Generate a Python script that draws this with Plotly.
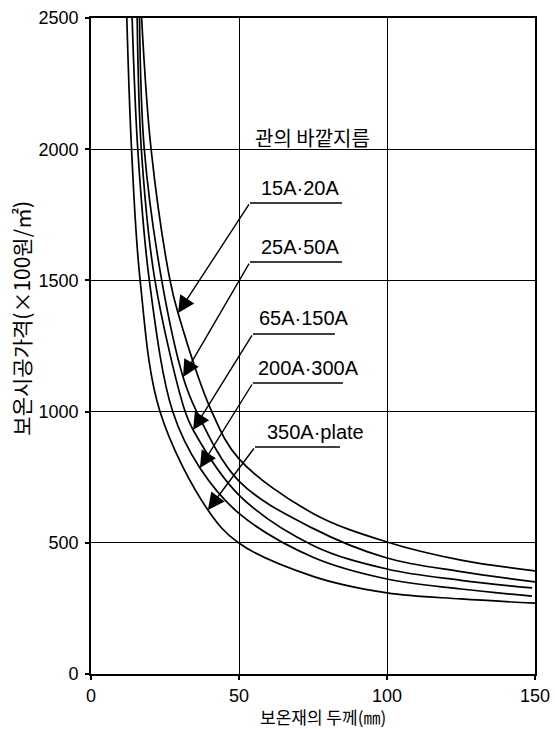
import plotly.graph_objects as go

# ---- data ----
series_names = ["15A·20A", "25A·50A", "65A·150A", "200A·300A", "350A·plate"]

x_15A = [17.1, 20.3, 26.7, 29.4, 40.8, 50, 75, 100, 125, 150]
y_15A = [2500, 2000, 1500, 1376, 1000, 820, 612, 503, 434, 393]

x_25A = [16.4, 18.0, 23.9, 31.1, 35.7, 50, 75, 100, 125, 150]
y_25A = [2500, 2000, 1500, 1132, 1000, 735, 555, 442, 390, 351]

x_65A = [15.6, 17.0, 21.6, 31.8, 34.5, 50, 75, 100, 125, 149]
y_65A = [2500, 2000, 1500, 1000, 930, 682, 490, 400, 357, 328]

x_200A = [13.9, 15.8, 19.7, 27.6, 36.8, 50, 75, 100, 125, 149]
y_200A = [2500, 2000, 1500, 1000, 785, 612, 445, 362, 324, 297]

x_350A = [12.1, 13.7, 16.6, 23.3, 39.5, 49.8, 75, 100, 125, 150]
y_350A = [2500, 2000, 1500, 1000, 625, 500, 372, 309, 286, 270]

# label annotations: text centre, underline (left x, right x, y), arrow tip
label_x = [70.6, 70.6, 72.0, 73.6, 75.7]
label_y = [1852, 1627, 1357, 1166, 922]
under_x0 = [53.7, 53.7, 54.7, 54.7, 55.4]
under_x1 = [84.8, 84.8, 82.4, 85.1, 84.1]
under_y = [1795, 1570, 1296, 1109, 865]
tip_x = [29.4, 31.1, 34.5, 36.8, 39.5]
tip_y = [1376, 1132, 930, 785, 625]

header_text = "관의 바깥지름"
header_x, header_y = 74.7, 2046

x_ticks = [0, 50, 100, 150]
y_ticks = [0, 500, 1000, 1500, 2000, 2500]

x_title = "보온재의 두께(㎜)"
y_title = "보온시공가격(×100원/㎡)"

KR = "Noto Sans CJK KR"
NUM = "Liberation Sans, Arial, sans-serif"

fig = go.Figure()
for xs, ys, nm in zip([x_15A, x_25A, x_65A, x_200A, x_350A],
                      [y_15A, y_25A, y_65A, y_200A, y_350A], series_names):
    fig.add_trace(go.Scatter(x=xs, y=ys, mode="lines", name=nm,
                             line=dict(color="black", width=1.7, shape="spline", smoothing=1.0),
                             showlegend=False, hoverinfo="skip"))

annotations = []
shapes = []
for i, nm in enumerate(series_names):
    annotations.append(dict(x=label_x[i], y=label_y[i], xref="x", yref="y", text=nm,
                            showarrow=False, font=dict(family=NUM, size=20, color="black"),
                            xanchor="center", yanchor="middle"))
    shapes.append(dict(type="line", xref="x", yref="y", x0=under_x0[i], x1=under_x1[i],
                       y0=under_y[i], y1=under_y[i], line=dict(color="black", width=1.5)))
    annotations.append(dict(x=tip_x[i], y=tip_y[i], xref="x", yref="y",
                            ax=under_x0[i], ay=under_y[i], axref="x", ayref="y",
                            text="", showarrow=True, arrowhead=2, arrowsize=2.4,
                            arrowwidth=1.4, arrowcolor="black"))

annotations.append(dict(x=header_x, y=header_y, xref="x", yref="y", text=header_text,
                        showarrow=False, font=dict(family=KR, size=20, color="black"),
                        xanchor="center", yanchor="middle"))
annotations.append(dict(x=0.523, y=-0.0655, xref="paper", yref="paper", text=x_title,
                        showarrow=False, font=dict(family=KR, size=17, color="black"),
                        xanchor="center", yanchor="middle"))
annotations.append(dict(x=-0.158, y=0.543, xref="paper", yref="paper", text=y_title,
                        showarrow=False, textangle=-90, font=dict(family=KR, size=21, color="black"),
                        xanchor="center", yanchor="middle"))

fig.update_layout(
    width=555, height=729,
    margin=dict(l=91, r=20, t=18, b=55),
    paper_bgcolor="white", plot_bgcolor="white",
    annotations=annotations, shapes=shapes,
    xaxis=dict(range=[0, 150], tickvals=x_ticks, ticks="outside", ticklen=4, tickwidth=1.5,
               tickcolor="black", showgrid=True, gridcolor="black", gridwidth=1.3,
               showline=True, linecolor="black", linewidth=1.8, mirror=True, zeroline=False,
               automargin=False,
               tickfont=dict(family=NUM, size=18, color="black"), ticklabelstandoff=0),
    yaxis=dict(range=[0, 2500], tickvals=y_ticks, ticks="outside", ticklen=4, tickwidth=1.5,
               tickcolor="black", showgrid=True, gridcolor="black", gridwidth=1.3,
               showline=True, linecolor="black", linewidth=1.8, mirror=True, zeroline=False,
               automargin=False,
               tickfont=dict(family=NUM, size=18, color="black"), ticklabelstandoff=3),
)

fig.write_html("out.html", config={"displayModeBar": False},
               post_script="document.body.style.margin='0';document.body.style.overflow='hidden';")
